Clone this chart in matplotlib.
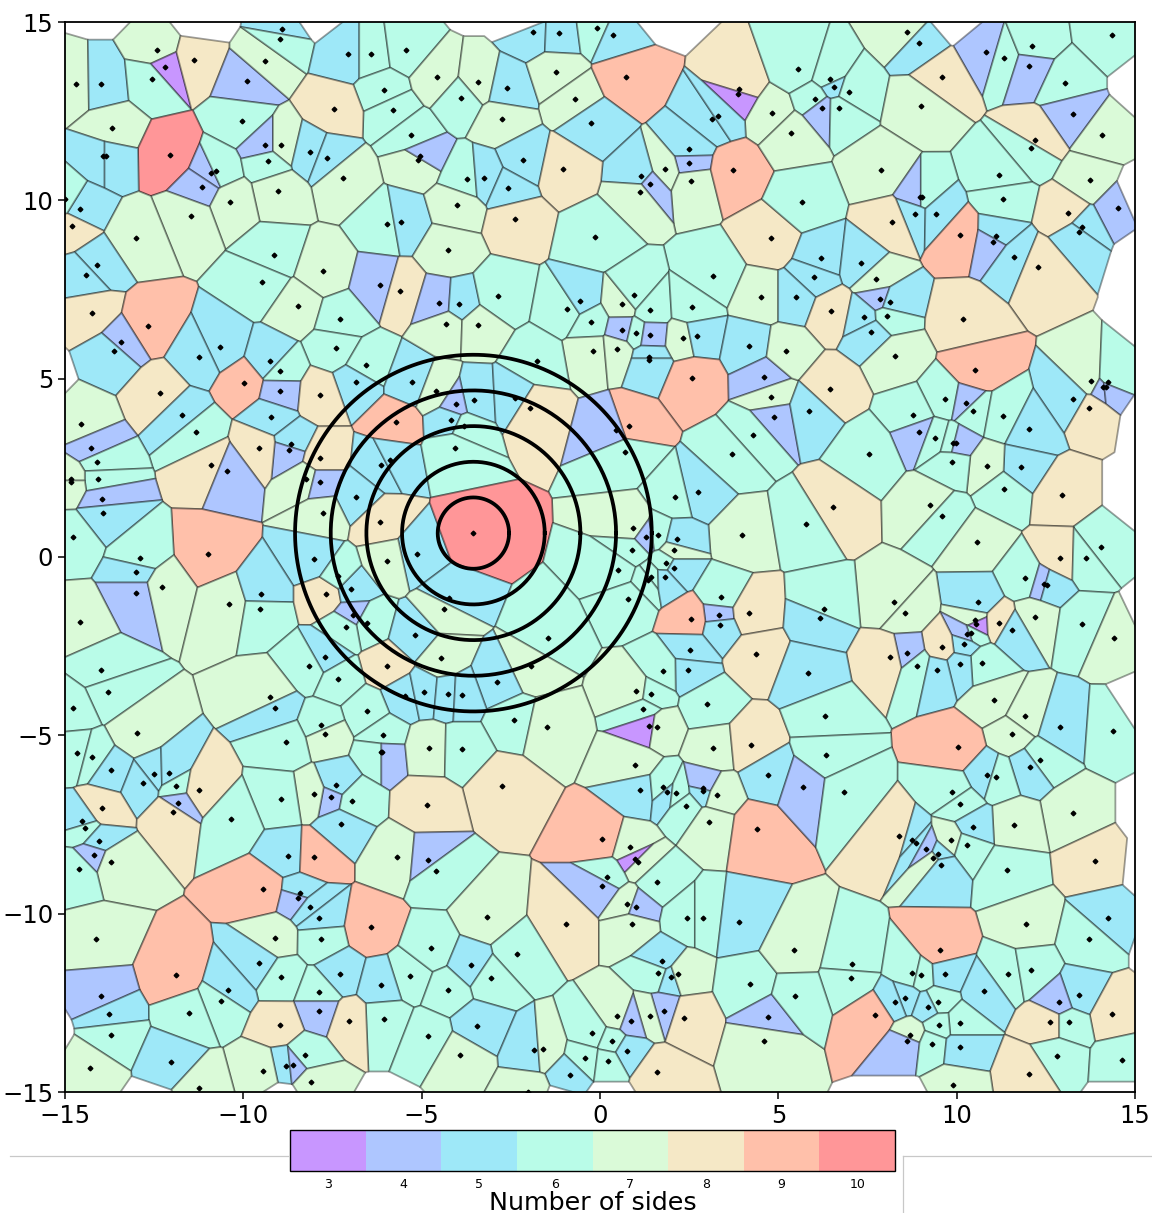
""" plot.py """

import numpy as np
import matplotlib
matplotlib.use("Agg")
import matplotlib.pyplot as plt
from matplotlib.collections import PolyCollection
from matplotlib.colors import ListedColormap, BoundaryNorm
from matplotlib.cm import ScalarMappable
from matplotlib.lines import Line2D

###################################################
# Seeds, region by region
# (x, y and the number of sides shown by the cell colour)
###################################################

x1 = [-14.70,-13.98,-12.41,-12.19,-12.55,-11.39,-9.89,-9.39,-8.91,-8.96,
      -7.07,-6.43,-5.45,-6.07,-5.81,-7.45,-13.68,-10.03,-9.40,-8.94,
      -8.13,-7.66,-5.30,-5.11,-5.05,-12.06,-13.94,-13.84,-10.91,-10.76,
      -11.17,-9.30,-7.21,-9.02,-10.37,-14.57,-14.81,-11.47,-13.00,-5.97,
      -5.57,-9.15,-7.77,-14.10,-14.42,-9.47,-6.18,-14.99]
y1 = [13.26,13.27,14.21,13.73,13.41,13.94,13.34,13.92,14.80,14.52,
      14.09,14.09,14.22,13.09,12.52,12.57,12.02,12.23,11.55,11.55,
      11.36,11.18,11.84,11.14,11.24,11.26,11.23,11.23,10.76,10.83,
      10.37,11.11,10.63,10.26,9.96,9.77,9.27,9.55,8.93,9.33,
      9.40,8.48,8.02,8.20,7.90,7.71,7.62,10.03]
s1 = [7,5,7,3,6,8,4,7,5,6,
      5,6,6,6,6,8,7,6,4,7,
      5,5,6,7,4,10,5,5,4,6,
      4,6,7,7,7,5,8,7,7,6,
      5,6,7,5,5,6,4,6]

x2 = [-1.89,-1.16,-0.09,0.36,-4.56,-3.41,-3.91,-2.62,-1.22,-0.69,
      0.72,-2.76,-0.24,3.91,3.87,4.81,3.15,3.30,2.49,2.50,
      1.83,2.56,1.14,1.39,1.11,3.73,-2.16,-1.04,-3.74,-3.24,
      -2.58,-4.00,-2.37,4.79,-0.13,-4.26,3.16]
y2 = [14.72,14.69,14.83,14.63,13.46,13.31,12.88,13.14,13.59,12.84,
      13.47,12.27,12.17,13.11,12.98,12.45,12.27,12.37,11.44,11.05,
      10.87,10.55,10.68,10.46,10.23,10.84,11.12,10.88,10.60,10.64,
      10.35,9.86,9.47,8.93,8.98,8.61,7.87]
s2 = [5,5,6,5,7,7,6,5,7,7,
      9,7,5,8,3,7,5,5,5,4,
      7,7,5,4,7,9,5,8,6,5,
      5,7,8,8,6,7,6]

x3 = [8.61,8.93,10.81,11.32,12.11,14.35,5.55,6.45,6.55,6.98,
      6.03,6.22,6.70,9.60,12.04,13.05,9.01,5.36,13.27,14.07,
      12.21,12.08,7.87,11.19,13.73,5.67,11.29,8.97,9.02,8.82,
      9.42,13.12,14.52,8.20,13.52,13.42,10.09,11.11,11.02,11.60,
      12.28,6.20,7.33,7.75,6.01]
y3 = [14.72,14.42,14.15,14.00,14.32,14.63,13.69,13.41,13.19,13.05,
      12.85,12.60,12.59,13.46,13.77,13.30,12.64,11.88,12.42,11.83,
      11.69,11.47,10.84,10.72,10.56,9.96,10.05,10.08,10.08,9.63,
      9.62,9.64,9.78,9.38,9.26,9.12,9.02,9.00,8.84,8.42,
      8.14,8.38,8.25,7.79,7.84]
s3 = [7,5,4,6,6,6,6,6,5,6,
      6,4,6,8,4,6,7,7,4,7,
      8,6,7,6,7,6,6,4,6,5,
      5,8,4,8,5,5,9,5,4,5,
      8,5,5,7,5]

x4 = [-5.62,-14.24,-12.67,-8.48,-7.28,-13.42,-13.64,-10.66,-11.23,-7.41,
      -9.26,-8.97,-6.57,-9.98,-6.84,-5.27,-8.98,-12.33,-7.86,-11.73,
      -9.22,-5.73,-14.55,-11.34,-8.65,-8.71,-14.27,-9.56,-7.85,-14.09,
      -10.90,-6.13,-5.88,-10.46,-14.07,-14.82,-14.82,-8.25,-7.85,-13.97,
      -6.85,-13.93,-7.76,-6.16,-14.77,-10.98,-12.91,-8.01,-5.14]
y4 = [7.46,6.84,6.49,7.03,6.68,6.02,5.77,5.89,5.62,5.87,
      5.49,5.22,5.38,4.89,4.91,4.90,4.66,4.60,4.55,3.98,
      3.92,3.78,3.73,3.50,3.18,2.99,3.06,3.07,2.78,2.65,
      2.58,2.59,2.72,2.40,2.20,2.20,2.09,2.19,2.09,1.64,
      1.69,1.23,1.24,0.97,0.57,0.09,-0.02,-0.07,0.08]
s4 = [8,8,9,7,6,4,5,5,5,6,
      5,6,6,9,5,5,4,8,8,5,
      5,9,7,6,5,4,4,8,8,6,
      8,5,5,4,6,7,7,7,4,4,
      5,5,7,8,6,9,6,5,5]

x5 = [-4.52,-3.94,-2.85,-0.92,-0.57,0.62,0.94,1.41,2.58,4.50,
      -4.31,-3.43,-0.25,0.63,1.01,1.39,2.33,2.72,4.19,-0.21,
      0.47,1.37,1.37,-1.78,2.59,4.60,4.79,-4.61,-3.53,-2.39,
      -4.04,-1.96,4.88,-4.19,-3.80,0.81,0.44,4.30,-4.06,0.69,
      3.71,2.75,2.11,0.93,-3.56,3.97,1.28,1.63,2.16,2.08,0.89]
y5 = [7.13,7.09,7.32,6.96,7.19,7.08,7.34,6.93,7.00,7.28,
      6.53,6.50,6.58,6.37,6.28,6.22,6.13,6.21,5.92,5.77,
      5.83,5.62,5.52,5.49,5.01,5.05,4.50,4.65,4.39,4.45,
      4.28,4.18,3.92,3.85,3.67,3.68,3.55,3.41,3.06,2.95,
      2.88,1.82,1.67,0.82,0.66,0.63,0.57,0.63,0.50,0.20,0.20]
s5 = [4,5,6,6,5,7,6,6,6,7,
      7,7,6,4,6,4,7,5,5,7,
      7,5,5,6,9,4,7,7,5,5,
      4,8,4,5,6,9,4,6,6,6,
      6,5,6,7,10,7,4,6,5,7,6]

x6 = [5.49,6.48,7.85,8.14,7.41,8.05,10.19,7.61,5.21,8.27,
      10.52,13.76,14.25,14.09,14.19,6.44,13.27,13.72,9.68,10.25,
      10.47,11.29,5.87,8.78,12.02,8.95,9.38,9.89,9.97,7.53,
      11.79,10.85,9.87,11.33,12.95,6.52,9.26,9.59,5.78,10.58,
      14.04,12.89,13.63]
y6 = [7.28,6.91,7.24,7.14,6.72,6.76,6.66,6.32,5.77,5.64,
      5.24,4.94,4.92,4.76,4.77,4.72,4.43,4.17,4.44,4.33,
      4.10,3.95,4.10,3.99,3.58,3.51,3.35,3.21,3.19,2.90,
      2.51,2.55,2.65,1.91,1.75,1.39,1.45,1.15,0.93,0.42,
      0.28,-0.02,-0.04]
s6 = [5,8,4,5,5,6,8,5,7,7,
      9,7,6,4,4,8,5,8,6,4,
      6,6,5,6,5,4,6,6,4,6,
      5,7,6,6,8,8,7,6,6,7,
      6,8,6]

x7 = [-13.00,-13.00,-12.28,-14.59,-10.40,-9.51,-9.52,-7.67,-6.97,-6.93,
      -6.53,-7.13,-5.19,-7.70,-8.16,-5.96,-14.00,-7.34,-13.79,-9.26,
      -9.11,-5.48,-14.77,-6.53,-7.81,-7.71,-6.09,-12.98,-8.79,-14.65,
      -14.23,-6.15,-6.11,-13.70,-12.50,-12.08,-12.82,-11.89,-11.24,-7.41,
      -7.55,-6.95,-8.03,-8.95,-11.82,-13.97,-11.97,-10.34,-14.51,-7.25,
      -14.45,-5.96,-7.35]
y7 = [-0.42,-1.01,-0.85,-1.83,-1.31,-1.03,-1.46,-1.03,-0.90,-1.62,
      -1.84,-1.95,-2.20,-2.80,-3.06,-3.05,-3.17,-3.43,-3.79,-3.92,
      -4.24,-3.90,-4.24,-4.33,-4.72,-4.95,-4.98,-4.94,-5.20,-5.50,
      -5.61,-5.48,-5.48,-5.98,-6.08,-6.07,-6.33,-6.41,-6.53,-6.39,
      -6.73,-6.85,-6.64,-6.78,-6.91,-7.03,-7.14,-7.35,-7.41,-7.49,
      -7.61,-0.10,-0.53]
s7 = [5,4,7,7,7,5,6,8,5,4,
      6,6,5,5,6,8,6,6,6,7,
      5,5,6,6,6,7,6,7,6,6,
      6,6,4,5,5,5,5,6,8,5,
      4,6,7,6,4,8,8,6,5,5,
      6,7,6]

x8 = [0.51,1.84,2.08,1.44,1.35,1.82,0.79,3.39,-4.22,-4.38,
      3.33,4.17,2.55,3.36,-1.47,2.53,4.37,-4.45,-1.93,2.47,
      1.76,-2.89,1.02,1.44,-4.94,-4.27,-3.88,3.00,1.21,-2.42,
      -1.50,1.36,1.61,-4.79,-3.88,3.17,4.22,0.97,4.72,-2.75,
      1.11,1.77,1.89,2.14,2.90,2.88,3.28,-4.86,2.40,3.07,4.39]
y8 = [-0.36,-0.18,-0.32,-0.57,-0.64,-0.56,-1.18,-1.11,-1.15,-1.47,
      -1.64,-1.56,-1.74,-1.92,-2.26,-2.60,-2.71,-2.83,-3.06,-3.18,
      -3.19,-3.51,-3.77,-3.83,-3.79,-3.85,-3.87,-4.13,-4.27,-4.56,
      -4.76,-4.73,-4.77,-5.35,-5.37,-5.36,-5.26,-5.83,-6.12,-6.42,
      -6.52,-6.46,-6.60,-6.63,-6.47,-6.56,-6.68,-6.95,-6.98,-7.44,-7.63]
s8 = [6,6,5,6,6,5,6,6,5,7,
      4,8,9,5,6,5,8,7,7,5,
      6,5,7,6,5,5,5,6,6,6,
      7,3,7,7,6,7,8,7,5,8,
      5,6,5,6,4,5,7,8,6,7,9]

x9 = [11.91,12.45,12.52,8.23,10.60,6.27,8.55,12.19,6.16,10.50,
      10.54,11.18,11.54,13.52,14.42,10.41,10.30,10.21,9.59,8.62,
      8.12,10.72,10.10,8.90,9.45,5.83,11.05,6.30,11.91,12.90,
      14.39,11.56,10.03,6.35,12.34,12.07,10.85,11.11,5.70,6.83,
      9.86,10.08,13.27,11.60,10.45]
y9 = [-0.60,-0.76,-0.78,-1.27,-1.25,-1.45,-1.56,-1.67,-1.72,-1.78,
      -1.87,-1.84,-2.05,-1.87,-2.26,-2.13,-2.17,-2.45,-2.53,-2.70,
      -2.81,-2.97,-3.01,-3.05,-3.17,-3.26,-4.02,-4.47,-4.47,-4.77,
      -4.88,-4.95,-5.34,-5.56,-5.68,-5.88,-6.10,-6.18,-6.44,-6.59,
      -6.60,-6.92,-7.19,-7.51,-7.57]
s9 = [6,4,5,7,5,6,7,7,5,7,
      3,8,5,6,7,6,4,5,8,4,
      8,6,5,6,5,5,7,6,7,5,
      6,7,9,6,6,5,5,6,4,6,
      6,6,7,7,5]

x10 = [-14.06,-14.18,-13.70,-14.60,-8.76,-8.03,-5.70,-9.44,-8.42,-8.46,
       -8.12,-7.88,-6.42,-14.12,-9.12,-7.83,-9.57,-11.89,-8.95,-7.30,
       -5.34,-6.13,-7.87,-10.43,-13.99,-10.64,-7.87,-13.77,-11.52,-6.05,
       -7.05,-8.96,-13.70,-12.03,-8.26,-8.79,-8.60,-14.29,-9.44,-8.09,
       -11.23]
y10 = [-7.96,-8.35,-8.54,-8.76,-8.37,-8.40,-8.41,-9.31,-9.42,-9.55,
       -9.81,-10.12,-10.38,-10.72,-10.69,-10.71,-11.37,-11.71,-11.78,-11.68,
       -11.74,-11.99,-12.19,-12.13,-12.31,-12.45,-12.72,-12.81,-12.79,-12.96,
       -13.00,-13.13,-13.41,-14.15,-13.96,-14.27,-14.25,-14.32,-14.41,-14.72,
       -14.89]
s10 = [5,4,7,6,5,9,7,9,5,4,
       5,5,9,7,7,6,5,9,6,5,
       6,5,6,5,4,6,4,5,6,6,
       8,8,6,5,6,5,4,7,7,7,
       7]

x11 = [0.07,0.84,0.99,1.07,-4.83,-4.61,1.59,0.21,0.07,0.77,
       1.02,-3.17,2.43,2.89,3.90,-0.96,0.90,-4.75,-2.32,-3.62,
       1.74,1.62,1.98,2.19,-3.07,4.21,-4.26,1.80,1.39,0.47,
       0.88,2.35,4.71,-3.45,-4.82,-0.22,4.61,0.33,0.76,-1.86,
       -1.60,-3.92,-0.41,0.22,1.59,-0.85,-2.01]
y11 = [-7.92,-8.14,-8.47,-8.55,-8.49,-8.79,-9.11,-8.96,-9.22,-9.72,
       -9.81,-10.10,-10.12,-10.12,-10.24,-10.29,-10.29,-10.97,-11.13,-11.44,
       -11.33,-11.65,-11.77,-11.70,-11.81,-11.98,-12.14,-12.74,-12.86,-12.86,
       -13.01,-12.92,-12.91,-13.14,-13.44,-13.35,-13.56,-13.58,-13.84,-13.82,
       -13.80,-13.96,-14.06,-14.14,-14.43,-14.52,-15.01]
s11 = [9,7,3,7,4,6,6,6,4,7,
       4,7,6,6,5,8,7,6,6,5,
       5,6,5,7,6,6,6,4,7,7,
       4,8,4,5,6,6,7,6,5,5,
       7,7,6,6,8,5,7]

x12 = [8.37,8.75,8.85,9.83,10.28,9.14,9.49,9.33,9.55,11.42,
       13.89,11.95,14.24,13.72,5.43,9.52,7.07,7.04,8.74,9.00,
       9.68,11.43,12.09,5.47,10.78,13.42,8.54,8.28,9.48,9.20,
       12.87,14.36,7.71,12.61,13.14,10.08,9.51,8.69,8.61,9.31,
       10.08,12.82,14.64,12.03,9.91]
y12 = [-7.82,-7.93,-8.02,-7.94,-8.08,-8.18,-8.33,-8.45,-8.63,-8.78,
       -8.52,-10.30,-10.12,-10.72,-11.01,-11.01,-11.40,-11.79,-11.66,-11.72,
       -11.68,-11.70,-11.59,-12.31,-12.17,-12.29,-12.37,-12.47,-12.47,-12.61,
       -12.48,-12.80,-12.84,-13.04,-13.04,-13.07,-13.12,-13.39,-13.58,-13.66,
       -13.74,-13.99,-14.11,-14.50,-14.81]
s12 = [8,5,5,7,6,4,5,7,5,6,
       8,7,5,6,7,9,6,6,6,6,
       5,6,6,6,5,5,5,5,6,5,
       4,8,9,8,6,6,6,7,4,6,
       5,6,6,8,7]

# Cells outside the axes that the picture leaves blank
gap_x = [-13.98,-11.22,-8.06,-2.00,-3.41,1.54,9.90,15.39,15.04,15.39,
         15.79,15.21,15.48,15.29,15.63,15.63,15.53,15.93,8.61,14.64,
         -6.05,-12.51,-8.91,-1.09,0.22,-15.87,-15.78]
gap_y = [15.74,15.16,15.37,15.00,15.90,15.59,15.25,13.30,10.01,8.51,
         6.85,1.75,3.89,-4.29,-1.68,-7.19,-8.68,-10.72,-15.50,-15.31,
         -15.89,-15.55,-15.24,-15.36,-15.28,5.02,-13.41]

sides_levels = [3, 4, 5, 6, 7, 8, 9, 10]
sides_colors = ["#c896ff", "#aec6ff", "#9ee8f8", "#b9fce8",
                "#dafad8", "#f5e8c6", "#ffc0aa", "#ff9698"]

circle_x = -3.55
circle_y = 0.67
circle_r = [1, 2, 3, 4, 5]

tick_vals = [-15, -10, -5, 0, 5, 10, 15]

###################################################
# Voronoi cells, by clipping a box with half planes
###################################################

seed_x = np.array(x1 + x2 + x3 + x4 + x5 + x6 + x7 + x8 + x9 + x10 + x11 + x12)
seed_y = np.array(y1 + y2 + y3 + y4 + y5 + y6 + y7 + y8 + y9 + y10 + y11 + y12)
seed_s = np.array(s1 + s2 + s3 + s4 + s5 + s6 + s7 + s8 + s9 + s10 + s11 + s12)

all_pts = np.column_stack([np.concatenate([seed_x, gap_x]),
                           np.concatenate([seed_y, gap_y])])


def clip_half_plane(_poly, _mid, _normal):
    """Keep the part of the polygon on the seed side of the bisector."""
    out = []
    for k in range(len(_poly)):
        a, b = _poly[k], _poly[(k + 1) % len(_poly)]
        da = np.dot(a - _mid, _normal)
        db = np.dot(b - _mid, _normal)
        if da <= 0:
            out.append(a)
        if da * db < 0:
            out.append(a + (b - a) * da / (da - db))
    return np.array(out)


def voronoi_cell(_i):
    """Voronoi cell of seed _i inside a box larger than the axes."""
    p = all_pts[_i]
    poly = np.array([[-17., -17.], [17., -17.], [17., 17.], [-17., 17.]])
    dist = np.hypot(*(all_pts - p).T)
    for j in np.argsort(dist)[1:]:
        reach = np.hypot(*(poly - p).T).max()
        if dist[j] / 2 > reach:
            break
        poly = clip_half_plane(poly, (p + all_pts[j]) / 2, all_pts[j] - p)
    return poly


cells = [voronoi_cell(i) for i in range(len(seed_x))]

###################################################
# Figure
###################################################

W, H = 1152, 1213
fig = plt.figure(figsize=(W / 100, H / 100), dpi=100)
ax = fig.add_axes([65 / W, (H - 1092) / H, 1070 / W, 1070 / H])

cmap = ListedColormap(sides_colors)
norm = BoundaryNorm(np.arange(2.5, 11.5), cmap.N)

pc = PolyCollection(cells, facecolors=cmap(norm(seed_s)),
                    edgecolors=(0, 0, 0, 0.38), linewidths=1.3)
ax.add_collection(pc)
ax.plot(seed_x, seed_y, linestyle="none", marker="D", markersize=2.4,
        color="k", zorder=3)

th = np.linspace(0, 2 * np.pi, 400)
for r in circle_r:
    ax.plot(circle_x + r * np.cos(th), circle_y + r * np.sin(th),
            color="k", linewidth=2.7, zorder=4)

ax.set_xlim(-15, 15)
ax.set_ylim(-15, 15)
ax.set_xticks(tick_vals)
ax.set_yticks(tick_vals)
ax.tick_params(labelsize=17.5, length=5, width=1.1)
for sp in ax.spines.values():
    sp.set_linewidth(1.3)

cax = fig.add_axes([290 / W, (H - 1171) / H, 605 / W, 41 / H])
sm = ScalarMappable(norm=norm, cmap=cmap)
cb = fig.colorbar(sm, cax=cax, orientation="horizontal", ticks=sides_levels)
cb.ax.tick_params(which="major", labelsize=9, length=0, pad=5)
cb.ax.tick_params(which="minor", length=0)
cb.outline.set_linewidth(1.0)
cb.set_label("Number of sides", fontsize=18.3, labelpad=0)

# Leftover frame lines around the colour bar
for xs, ys in [((10, 288), (1156, 1156)), ((903, 1152), (1156, 1156)),
               ((903, 903), (1156, 1213))]:
    fig.add_artist(Line2D([v / W for v in xs], [1 - v / H for v in ys],
                          color="#c8c8c8", linewidth=0.9))

fig.savefig("out.png", dpi=100)
